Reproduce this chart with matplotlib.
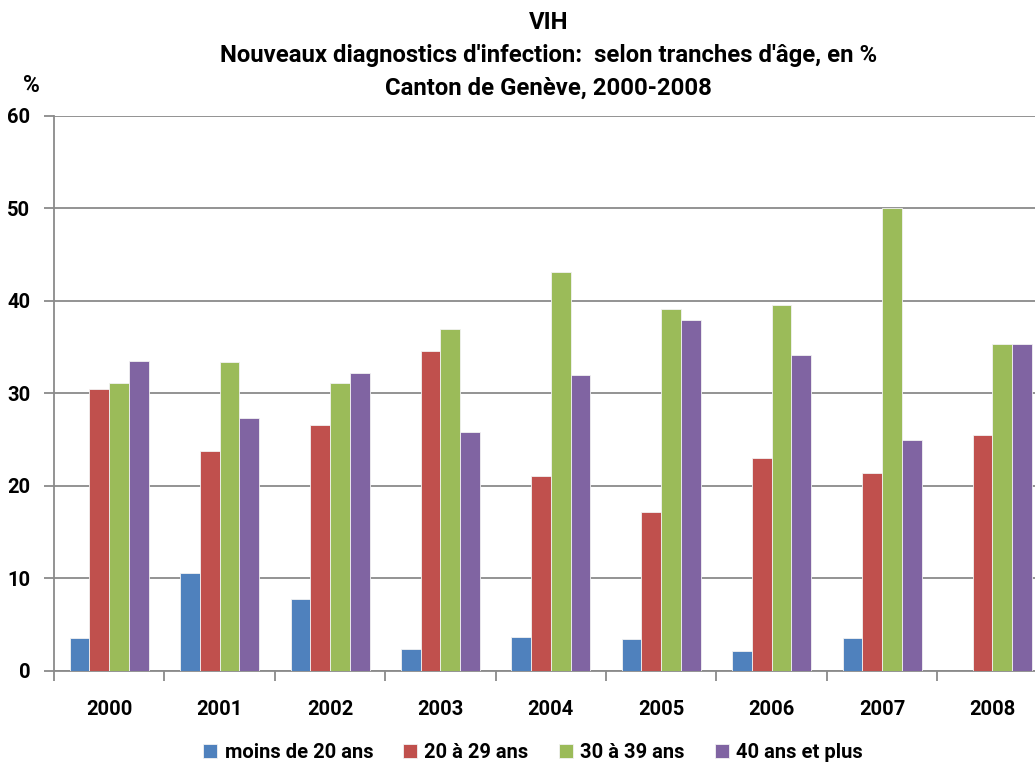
import numpy as np
import matplotlib.pyplot as plt

annees = ["2000", "2001", "2002", "2003", "2004", "2005", "2006", "2007", "2008"]
moins_20 = [3.5, 10.6, 7.7, 2.3, 3.6, 3.4, 2.1, 3.5, 0.0]
de_20_29 = [30.5, 23.7, 26.6, 34.6, 21.0, 17.2, 23.0, 21.4, 25.5]
de_30_39 = [31.1, 33.4, 31.1, 36.9, 43.1, 39.1, 39.5, 50.0, 35.3]
plus_40 = [33.5, 27.3, 32.2, 25.8, 32.0, 37.9, 34.1, 24.9, 35.3]
series = ["moins de 20 ans", "20 à 29 ans", "30 à 39 ans", "40 ans et plus"]
couleurs = ["#4F81BD", "#C0504D", "#9BBB59", "#8064A2"]

plt.rcParams["font.family"] = ["Roboto", "DejaVu Sans"]
plt.rcParams["font.weight"] = "bold"

fig = plt.figure(figsize=(10.35, 7.65), dpi=100)
ax = fig.add_axes([0.0522, 0.1233, 0.96, 0.7255])

x = np.arange(len(annees))
largeur = 0.179
for i, (vals, nom, c) in enumerate(zip([moins_20, de_20_29, de_30_39, plus_40], series, couleurs)):
    ax.bar(x + (i - 1.5) * largeur, vals, largeur, color=c, label=nom,
           edgecolor="#f2f2f2", linewidth=0.6, zorder=3)

ax.set_xlim(-0.5, len(annees) - 0.5)
ax.set_ylim(0, 60)
ax.set_yticks(range(0, 61, 10))
ax.yaxis.grid(True, color="#8a8a8a", linewidth=1.3, zorder=0)
ax.set_axisbelow(True)

# labels des années au centre, petits traits entre les groupes
ax.set_xticks(x)
ax.set_xticklabels(annees, fontsize=14.5, fontweight="bold")
ax.set_xticks(np.arange(-0.5, len(annees), 1), minor=True)
ax.tick_params(axis="x", which="major", length=0, pad=21)
ax.tick_params(axis="x", which="minor", length=7, color="#8a8a8a", width=1.3)
ax.tick_params(axis="y", length=7, color="#8a8a8a", width=1.3, labelsize=14.5, pad=10)
for lab in ax.get_yticklabels():
    lab.set_fontweight("bold")

for cote in ["top", "right"]:
    ax.spines[cote].set_visible(False)
for cote in ["left", "bottom"]:
    ax.spines[cote].set_color("#8a8a8a")
    ax.spines[cote].set_linewidth(1.3)

fig.text(0.53, 0.985, "VIH\nNouveaux diagnostics d'infection:  selon tranches d'âge, en %\nCanton de Genève, 2000-2008",
         ha="center", va="top", fontsize=17.2, fontweight="bold", linespacing=1.55)
fig.text(0.03, 0.888, "%", ha="center", va="center", fontsize=16.5, fontweight="bold")

fig.legend(loc="lower center", bbox_to_anchor=(0.515, -0.02), ncol=4, frameon=False,
           handlelength=0.7, handleheight=0.7, handletextpad=0.35,
           columnspacing=1.5, prop={"weight": "bold", "size": 14.5})

fig.savefig("out.png", dpi=100)
